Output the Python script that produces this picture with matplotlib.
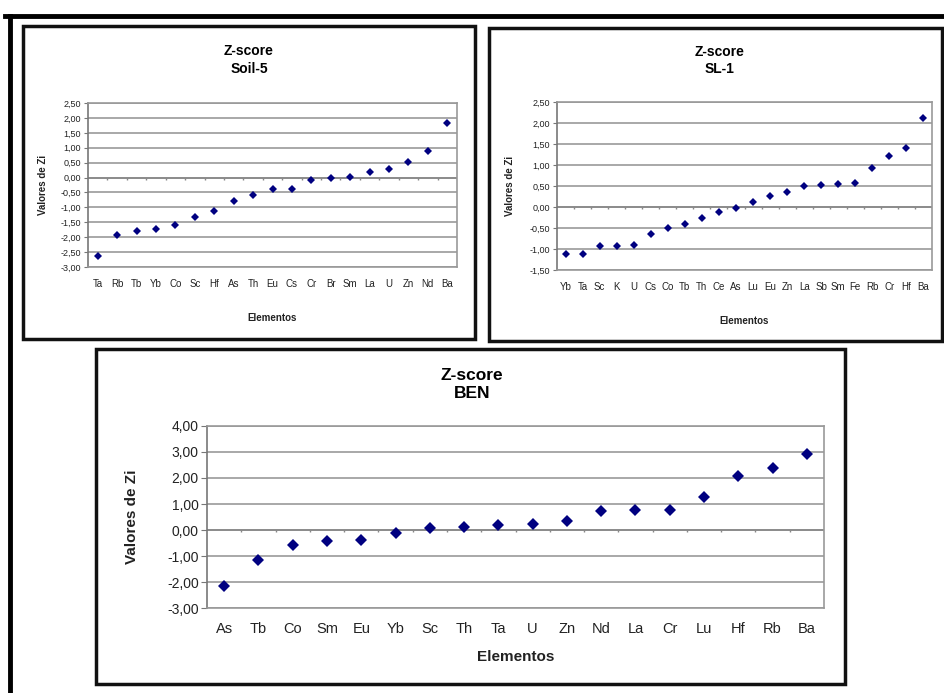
import numpy as np
import matplotlib
matplotlib.use('Agg')
import matplotlib.pyplot as plt
from matplotlib.patches import Rectangle
from matplotlib.lines import Line2D

plt.rcParams['font.family'] = ['Liberation Sans', 'DejaVu Sans']

# Soil-5
soil_elem = ['Ta', 'Rb', 'Tb', 'Yb', 'Co', 'Sc', 'Hf', 'As', 'Th', 'Eu', 'Cs', 'Cr', 'Br', 'Sm',
             'La', 'U', 'Zn', 'Nd', 'Ba']
soil_z = [-2.63, -1.92, -1.79, -1.73, -1.59, -1.32, -1.12, -0.78, -0.59, -0.39, -0.37, -0.08,
          -0.02, 0.03, 0.19, 0.27, 0.53, 0.89, 1.84]

# SL-1
sl_elem = ['Yb', 'Ta', 'Sc', 'K', 'U', 'Cs', 'Co', 'Tb', 'Th', 'Ce', 'As', 'Lu', 'Eu', 'Zn',
           'La', 'Sb', 'Sm', 'Fe', 'Rb', 'Cr', 'Hf', 'Ba']
sl_z = [-1.13, -1.12, -0.93, -0.93, -0.91, -0.64, -0.49, -0.40, -0.26, -0.12, -0.03, 0.12,
        0.27, 0.35, 0.50, 0.53, 0.54, 0.56, 0.92, 1.21, 1.41, 2.11]

# BEN
ben_elem = ['As', 'Tb', 'Co', 'Sm', 'Eu', 'Yb', 'Sc', 'Th', 'Ta', 'U', 'Zn', 'Nd', 'La', 'Cr',
            'Lu', 'Hf', 'Rb', 'Ba']
ben_z = [-2.14, -1.17, -0.57, -0.44, -0.40, -0.10, 0.07, 0.10, 0.20, 0.24, 0.34, 0.75, 0.77,
         0.77, 1.26, 2.09, 2.38, 2.94]

W, H = 944, 693
fig = plt.figure(figsize=(W / 100, H / 100), dpi=100)


def fx(x):
    return x / W


def fy(y):
    return 1 - y / H


def box(x0, y0, x1, y1, lw=2.5):
    fig.patches.append(Rectangle((fx(x0), fy(y1)), fx(x1) - fx(x0), fy(y0) - fy(y1),
                                 transform=fig.transFigure, fill=False, edgecolor='#111111',
                                 linewidth=lw, zorder=5))


def line(xs, ys, lw):
    fig.add_artist(Line2D([fx(v) for v in xs], [fy(v) for v in ys], color='black',
                          linewidth=lw, transform=fig.transFigure))


# outer frame
line([5, W], [16, 16], 3.5)
line([10, 10], [16, H], 3.5)

box(23, 26, 475, 339)
box(489, 28, 942, 341)
box(96, 349, 845, 684)


def zplot(px, elem, z, ylim, step, yfmt, tick_fs, lab_fs, title, title_fs, t1y, t2y,
          ylab_x, xlab_y, title_x, ms, tick_len):
    x0, y0, x1, y1 = px
    ax = fig.add_axes([fx(x0), fy(y1), fx(x1) - fx(x0), fy(y0) - fy(y1)])
    n = len(elem)
    xs = np.arange(n)
    ax.set_xlim(-0.5, n - 0.5)
    ax.set_ylim(*ylim)
    yt = np.arange(ylim[0], ylim[1] + step / 2, step)
    ax.set_yticks(yt)
    ax.set_yticklabels([yfmt.format(v).replace('.', ',') for v in yt], fontsize=tick_fs,
                       color='#222222')
    ax.set_xticks(xs)
    ax.set_xticklabels(elem, fontsize=tick_fs + 0.5, color='#222222')
    ax.tick_params(axis='x', length=0, pad=tick_len + 6)
    ax.tick_params(axis='y', length=tick_len, color='#777777', pad=2)
    ax.grid(axis='y', color='#999999', linewidth=1.2)
    ax.set_axisbelow(True)
    for s in ax.spines.values():
        s.set_color('#999999')
        s.set_linewidth(1.2)
    ax.spines['left'].set_color('#777777')
    ax.axhline(0, color='#888888', linewidth=1.2, zorder=1)
    dy = (ylim[1] - ylim[0]) * 0.012
    ax.vlines(np.arange(n) + 0.5, -dy, 0, color='#888888', linewidth=1)
    ax.plot(xs, z, linestyle='none', marker='D', color='#000080', markersize=ms,
            markeredgewidth=0, zorder=3)
    fig.text(fx(title_x), fy(t1y), 'Z-score', ha='center', va='center', fontsize=title_fs,
             fontweight='bold')
    fig.text(fx(title_x), fy(t2y), title, ha='center', va='center', fontsize=title_fs,
             fontweight='bold')
    fig.text(fx(ylab_x), fy((y0 + y1) / 2), 'Valores de Zi', rotation=90, ha='center',
             va='center', fontsize=lab_fs, fontweight='bold', color='#222222')
    fig.text(fx((x0 + x1) / 2), fy(xlab_y), 'Elementos', ha='center', va='center',
             fontsize=lab_fs, fontweight='bold', color='#222222')
    return ax


zplot((88, 103, 457, 267), soil_elem, soil_z, (-3.0, 2.5), 0.5, '{:.2f}', 6.5, 7,
      'Soil-5', 10, 51, 69, 43, 318, 249, 4.5, 3)
zplot((557, 102, 932, 270), sl_elem, sl_z, (-1.5, 2.5), 0.5, '{:.2f}', 6.5, 7,
      'SL-1', 10, 52, 69, 510, 321, 720, 4.5, 3)
zplot((207, 426, 824, 608), ben_elem, ben_z, (-3.0, 4.0), 1.0, '{:.2f}', 10, 11,
      'BEN', 12.5, 376, 394, 132, 657, 472, 6, 4)

fig.savefig('out.png', dpi=100)
